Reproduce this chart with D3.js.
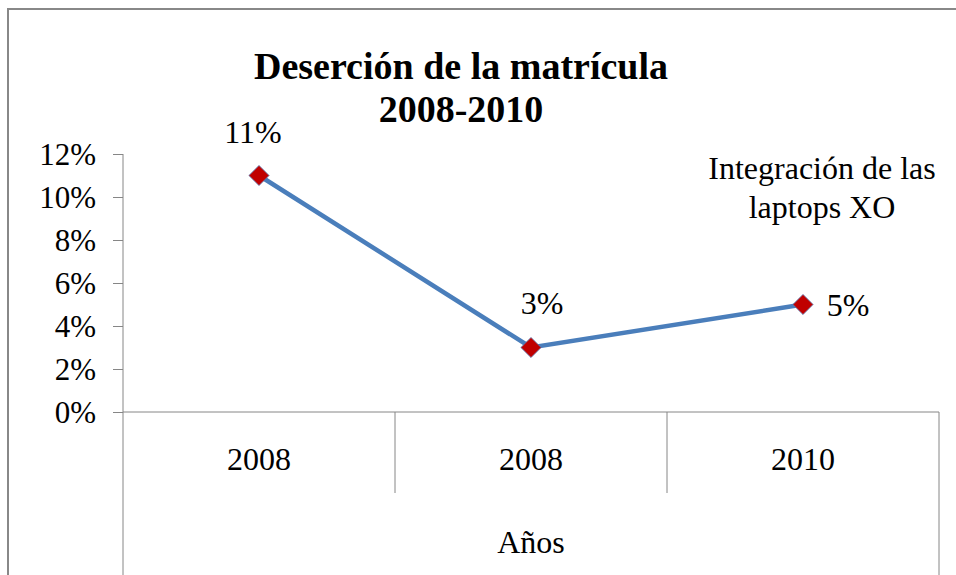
<!DOCTYPE html>
<html>
<head>
<meta charset="utf-8">
<script src="https://cdn.jsdelivr.net/npm/d3@7"></script>
<style>
body { margin: 0; background: #fff; }
text { font-family: "Liberation Serif", "Times New Roman", serif; fill: #000; }
</style>
</head>
<body>
<div id="g1"></div>
<script>
// datos del gráfico
var years = ["2008", "2008", "2010"];
var desercion = [0.11, 0.03, 0.05];
var yTicks = [0, 0.02, 0.04, 0.06, 0.08, 0.10, 0.12];
var titleLines = ["Deserción de la matrícula", "2008-2010"];
var noteLines = ["Integración de las", "laptops XO"];
var axisTitle = "Años";

var w = 956, h = 575;
var svg = d3.select("#g1").append("svg").attr("width", w).attr("height", h);

// marco exterior
svg.append("rect").attr("x", 8).attr("y", 9).attr("width", 980).attr("height", 600)
    .style("fill", "white").style("stroke", "#888").style("stroke-width", 2);

var plotL = 123, plotR = 939, plotT = 154, plotB = 412;

var x = d3.scaleBand().domain(d3.range(years.length)).range([plotL, plotR]).paddingInner(0).paddingOuter(0);
var y = d3.scaleLinear().domain([0, 0.12]).range([plotB, plotT]);
var cx = function(i) { return x(i) + x.bandwidth() / 2; };

// eje Y
var yAxis = d3.axisLeft(y).tickValues(yTicks).tickFormat(d3.format(".0%")).tickSize(10).tickPadding(17);
var gy = svg.append("g").attr("transform", "translate(" + plotL + ",0)").call(yAxis);
gy.select(".domain").remove();
gy.selectAll("line").style("stroke", "#868686");
gy.selectAll("text").style("font-size", "31px").attr("dy", "0.34em")
    .style("font-family", "'Liberation Serif', serif").style("fill", "#000");

svg.append("line").attr("x1", plotL).attr("x2", plotL).attr("y1", plotT).attr("y2", h + 5)
    .style("stroke", "#868686");

// eje X (categorías)
svg.append("line").attr("x1", plotL).attr("x2", plotR).attr("y1", plotB).attr("y2", plotB)
    .style("stroke", "#868686");
d3.range(1, years.length).forEach(function(i) {
    svg.append("line").attr("x1", x(i)).attr("x2", x(i)).attr("y1", plotB).attr("y2", 493)
        .style("stroke", "#868686");
});
svg.append("line").attr("x1", plotR).attr("x2", plotR).attr("y1", plotB).attr("y2", h + 5)
    .style("stroke", "#868686");

svg.selectAll(".cat").data(years).enter().append("text")
    .attr("class", "cat")
    .attr("x", function(d, i) { return cx(i); })
    .attr("y", 470)
    .attr("text-anchor", "middle")
    .style("font-size", "32px")
    .text(function(d) { return d; });

svg.append("text").attr("x", (plotL + plotR) / 2).attr("y", 553).attr("text-anchor", "middle")
    .style("font-size", "32px").text(axisTitle);

// título
svg.selectAll(".title").data(titleLines).enter().append("text")
    .attr("class", "title")
    .attr("x", 461)
    .attr("y", function(d, i) { return 79 + i * 43; })
    .attr("text-anchor", "middle")
    .style("font-size", "38px").style("font-weight", "bold")
    .text(function(d) { return d; });

// nota
svg.selectAll(".note").data(noteLines).enter().append("text")
    .attr("class", "note")
    .attr("x", 822)
    .attr("y", function(d, i) { return 179 + i * 39; })
    .attr("text-anchor", "middle")
    .style("font-size", "32px")
    .text(function(d) { return d; });

// línea
var line = d3.line().x(function(d, i) { return cx(i); }).y(function(d) { return y(d); });
svg.append("path").datum(desercion).attr("d", line)
    .style("fill", "none").style("stroke", "#4A7EBB").style("stroke-width", 4.5);

svg.selectAll(".pt").data(desercion).enter().append("path")
    .attr("class", "pt")
    .attr("d", d3.symbol().type(d3.symbolDiamond2).size(260))
    .attr("transform", function(d, i) { return "translate(" + cx(i) + "," + y(d) + ")"; })
    .style("fill", "#C00000").style("stroke", "#5a7fb8").style("stroke-width", 0.8);

// etiquetas de datos
var lblDx = [-6, 11, 45], lblDy = [-33, -34, 11];
svg.selectAll(".lbl").data(desercion).enter().append("text")
    .attr("class", "lbl")
    .attr("x", function(d, i) { return cx(i) + lblDx[i]; })
    .attr("y", function(d, i) { return y(d) + lblDy[i]; })
    .attr("text-anchor", "middle")
    .style("font-size", "32px")
    .text(function(d) { return d3.format(".0%")(d); });
</script>
</body>
</html>
